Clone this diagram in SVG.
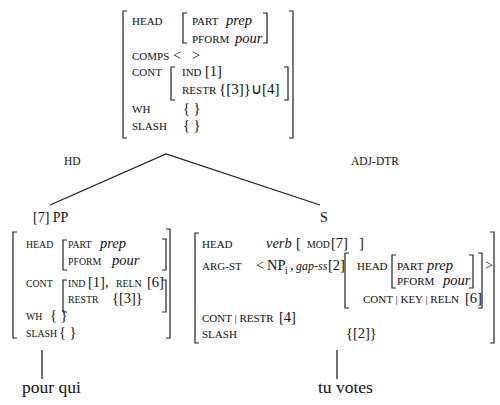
<svg xmlns="http://www.w3.org/2000/svg" width="500" height="405" viewBox="0 0 500 405">
<style>
text{font-family:"Liberation Serif","Times New Roman",serif;fill:#111}
.f{font-size:11px}
.fs{font-size:9.8px}
.v{font-size:14.5px}
.vi{font-size:14.5px;font-style:italic}
.lab{font-size:11.5px}
.cat{font-size:14px}
.w{font-size:17.5px}
.br{fill:none;stroke:#222;stroke-width:1.2}
.ln{fill:none;stroke:#222;stroke-width:1.3}
</style>
<rect width="500" height="405" fill="#fff"/>

<g id="root-avm">
<path class="br" d="M127,11 H123 V138 H127"/>
<path class="br" d="M289,11 H293 V138 H289"/>
<path class="br" d="M187,13 H183 V43 H187"/>
<path class="br" d="M263,13 H267 V43 H263"/>
<path class="br" d="M175,67 H171 V100 H175"/>
<path class="br" d="M284,67 H288 V100 H284"/>
<text class="f" x="132" y="25">HEAD</text>
<text class="f" x="192" y="25">PART</text>
<text class="vi" x="226" y="25">prep</text>
<text class="f" x="192" y="43">PFORM</text>
<text class="vi" x="235" y="43">pour</text>
<text class="f" x="132" y="60">COMPS</text>
<text class="v" x="173" y="60">&lt;</text>
<text class="v" x="192" y="60">&gt;</text>
<text class="f" x="132" y="76">CONT</text>
<text class="f" x="182" y="76">IND</text>
<text class="v" x="205" y="76">[1]</text>
<text class="f" x="182" y="94">RESTR</text>
<text class="v" x="219" y="94" style="font-size:15px">{[3]}∪[4]</text>
<text class="f" x="132" y="113">WH</text>
<text class="v" x="183" y="113">{ }</text>
<text class="f" x="132" y="130">SLASH</text>
<text class="v" x="183" y="130">{ }</text>
</g>

<g id="connectors">
<path class="ln" d="M50,205 L166,154 L320,205"/>
<text class="lab" x="64" y="165">HD</text>
<text class="lab" x="351" y="165">ADJ-DTR</text>
<line class="ln" x1="42" y1="350" x2="42" y2="379"/>
<line class="ln" x1="337" y1="350" x2="337" y2="379"/>
</g>

<g id="pp-node">
<text class="cat" x="33" y="222">[7] PP</text>
<path class="br" d="M17,232 H13 V338 H17"/>
<path class="br" d="M166,229 H170 V338 H166"/>
<path class="br" d="M67,240 H63 V270 H67"/>
<path class="br" d="M162,239 H166 V270 H162"/>
<path class="br" d="M67,280 H63 V312 H67"/>
<path class="br" d="M162,280 H166 V312 H162"/>
<text class="fs" x="26" y="248">HEAD</text>
<text class="fs" x="68" y="248">PART</text>
<text class="vi" x="100" y="248">prep</text>
<text class="fs" x="68" y="265">PFORM</text>
<text class="vi" x="112" y="265">pour</text>
<text class="fs" x="26" y="287">CONT</text>
<text class="fs" x="68" y="287">IND</text>
<text class="v" x="88" y="287">[1],</text>
<text class="fs" x="116" y="287">RELN</text>
<text class="v" x="147" y="287">[6]</text>
<text class="fs" x="68" y="303">RESTR</text>
<text class="v" x="112" y="303">{[3]}</text>
<text class="fs" x="26" y="320">WH</text>
<text class="v" x="50" y="320">{ }</text>
<text class="fs" x="26" y="337">SLASH</text>
<text class="v" x="59" y="337">{ }</text>
</g>

<g id="s-node">
<text class="cat" x="320" y="222">S</text>
<path class="br" d="M199,233 H195 V343 H199"/>
<path class="br" d="M490,232 H494 V343 H490"/>
<path class="br" d="M349,253 H345 V308 H349"/>
<path class="br" d="M478,253 H482 V308 H478"/>
<path class="br" d="M396,255 H392 V288 H396"/>
<path class="br" d="M469,255 H473 V288 H469"/>
<text class="f" x="202" y="248">HEAD</text>
<text class="vi" x="266" y="248">verb</text>
<text class="v" x="296" y="248">[</text>
<text class="f" x="307" y="248" style="font-size:9.8px">MOD</text>
<text class="v" x="331" y="248">[7]</text>
<text class="v" x="359" y="248">]</text>
<text class="f" x="202" y="270">ARG-ST</text>
<text class="v" x="256" y="270">&lt;</text>
<text class="v" x="267" y="270">NP</text>
<text x="285" y="274" style="font-size:10px">i</text>
<text class="v" x="290" y="270">,</text>
<text x="296" y="270" style="font-size:12px;font-style:italic">gap-ss</text>
<text class="v" x="328" y="270">[2]</text>
<text class="f" x="357" y="270">HEAD</text>
<text class="f" x="397" y="270">PART</text>
<text class="vi" x="427" y="270">prep</text>
<text class="f" x="397" y="285">PFORM</text>
<text class="vi" x="443" y="285">pour</text>
<text class="f" x="363" y="303">CONT | KEY | RELN</text>
<text class="v" x="465" y="303">[6]</text>
<text class="v" x="485" y="270">&gt;</text>
<text class="f" x="202" y="322">CONT | RESTR</text>
<text class="v" x="279" y="322">[4]</text>
<text class="f" x="202" y="338">SLASH</text>
<text class="v" x="346" y="338">{[2]}</text>
</g>

<g id="word-pour-qui">
<text class="w" x="22" y="393">pour qui</text>
</g>
<g id="word-tu-votes">
<text class="w" x="318" y="393">tu votes</text>
</g>
</svg>
